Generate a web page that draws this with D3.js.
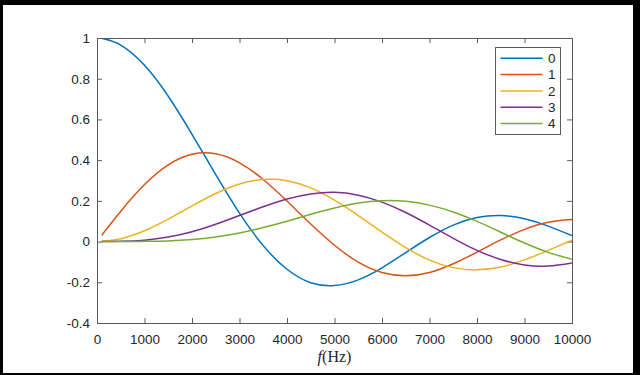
<html>
<head>
<script src="https://d3js.org/d3.v7.min.js"></script>
</head>
<body style="margin:0">
<script>
var width = 640;
var height = 375;
var margin = {top:38, left:97};
var w = 475;
var h = 285;

// frequencies (Hz) and the five curves
var freq = [100, 500, 1000, 1500, 2000, 2500, 3000, 3500, 4000, 4500, 5000,
            5500, 6000, 6500, 7000, 7500, 8000, 8500, 9000, 9500, 10000];
var s0 = [0.999, 0.965, 0.866, 0.714, 0.527, 0.329, 0.140, -0.020, -0.136, -0.202, -0.216,
          -0.188, -0.129, -0.054, 0.020, 0.081, 0.118, 0.128, 0.112, 0.076, 0.029];
var s1 = [0.031, 0.149, 0.280, 0.377, 0.429, 0.431, 0.387, 0.305, 0.199, 0.086, -0.018,
          -0.101, -0.152, -0.168, -0.152, -0.109, -0.052, 0.008, 0.060, 0.095, 0.108];
var s2 = [0.001, 0.014, 0.053, 0.110, 0.175, 0.236, 0.283, 0.305, 0.299, 0.264, 0.204,
          0.128, 0.046, -0.030, -0.091, -0.128, -0.139, -0.125, -0.090, -0.043, 0.007];
var s3 = [0.000, 0.001, 0.007, 0.022, 0.048, 0.085, 0.128, 0.171, 0.209, 0.234, 0.242,
          0.228, 0.194, 0.143, 0.081, 0.016, -0.043, -0.088, -0.115, -0.120, -0.105];
var s4 = [0.000, 0.000, 0.001, 0.003, 0.010, 0.023, 0.042, 0.069, 0.100, 0.134, 0.165,
          0.189, 0.201, 0.198, 0.179, 0.145, 0.099, 0.046, -0.007, -0.053, -0.087];
var names = ["0", "1", "2", "3", "4"];
var xTicks = [0, 1000, 2000, 3000, 4000, 5000, 6000, 7000, 8000, 9000, 10000];
var yTicks = [-0.4, -0.2, 0, 0.2, 0.4, 0.6, 0.8, 1];

var colors = ["#0072BD", "#D95319", "#EDB120", "#7E2F8E", "#77AC30"];
var allSeries = [s0, s1, s2, s3, s4];
var axisColor = "#5a5a5a";
var textColor = "#262626";

var x = d3.scaleLinear().domain([0, 10000]).range([0, w]);
var y = d3.scaleLinear().domain([-0.4, 1]).range([h, 0]);

var root = d3.select("body").append("svg")
    .attr("width", width)
    .attr("height", height);

// black frame round the figure
root.append("rect").attr("width", width).attr("height", height).attr("fill", "#000");
root.append("rect").attr("x", 3).attr("y", 5).attr("width", 630).attr("height", 368).attr("fill", "#fff");

var svg = root.append("g")
    .attr("transform", "translate(" + margin.left + "," + margin.top + ")");

svg.append("clipPath").attr("id", "clip")
  .append("rect").attr("width", w).attr("height", h);

function styleAxis(g) {
  g.select(".domain").remove();
  g.selectAll(".tick line").attr("stroke", axisColor);
  g.selectAll(".tick text")
    .attr("fill", textColor)
    .style("font-family", "'Liberation Sans', Arial, sans-serif")
    .style("font-size", "13.5px");
}

svg.append("g")
    .attr("transform", "translate(0," + h + ")")
    .call(d3.axisBottom(x).tickValues(xTicks).tickSizeInner(-5).tickSizeOuter(0).tickPadding(11)
      .tickFormat(function(d) { return String(d); }))
    .call(styleAxis);
svg.append("g")
    .call(d3.axisTop(x).tickValues(xTicks).tickSizeInner(-5).tickSizeOuter(0).tickFormat(""))
    .call(styleAxis);
svg.append("g")
    .call(d3.axisLeft(y).tickValues(yTicks).tickSizeInner(-5).tickSizeOuter(0).tickPadding(7)
      .tickFormat(function(d) { return String(d); }))
    .call(styleAxis);
svg.append("g")
    .attr("transform", "translate(" + w + ",0)")
    .call(d3.axisRight(y).tickValues(yTicks).tickSizeInner(-5).tickSizeOuter(0).tickFormat(""))
    .call(styleAxis);

var line = d3.line()
    .x(function(d, i) { return x(freq[i]); })
    .y(function(d) { return y(d); })
    .curve(d3.curveNatural);

svg.append("g")
    .attr("clip-path", "url(#clip)")
  .selectAll("path")
  .data(allSeries)
  .enter().append("path")
    .attr("fill", "none")
    .attr("stroke", function(d, i) { return colors[i]; })
    .attr("stroke-width", 1.5)
    .attr("d", line);

// axes box
svg.append("rect")
    .attr("x", 0).attr("y", 0).attr("width", w).attr("height", h)
    .attr("fill", "none")
    .attr("stroke", axisColor)
    .attr("shape-rendering", "crispEdges");

// x label
var xl = svg.append("text")
    .attr("x", w / 2)
    .attr("y", 324)
    .attr("text-anchor", "middle")
    .attr("fill", textColor)
    .style("font-family", "'Liberation Serif', 'Times New Roman', serif")
    .style("font-size", "16px");
xl.append("tspan").style("font-style", "italic").text("f");
xl.append("tspan").text("(Hz)");

// legend
var legend = svg.append("g")
    .attr("transform", "translate(" + (495.5 - margin.left) + "," + (47.5 - margin.top) + ")");
legend.append("rect")
    .attr("width", 65).attr("height", 86.5)
    .attr("fill", "#fff")
    .attr("stroke", axisColor)
    .attr("shape-rendering", "crispEdges");
var item = legend.selectAll("g.item")
    .data(names)
  .enter().append("g")
    .attr("class", "item")
    .attr("transform", function(d, i) { return "translate(0," + (10.8 + i * 16.3) + ")"; });
item.append("line")
    .attr("x1", 5).attr("x2", 47)
    .attr("stroke", function(d, i) { return colors[i]; })
    .attr("stroke-width", 1.5);
item.append("text")
    .attr("x", 52.5)
    .attr("dy", "0.36em")
    .attr("fill", textColor)
    .style("font-family", "'Liberation Sans', Arial, sans-serif")
    .style("font-size", "13.5px")
    .text(function(d) { return d; });
</script>
</body>
</html>
